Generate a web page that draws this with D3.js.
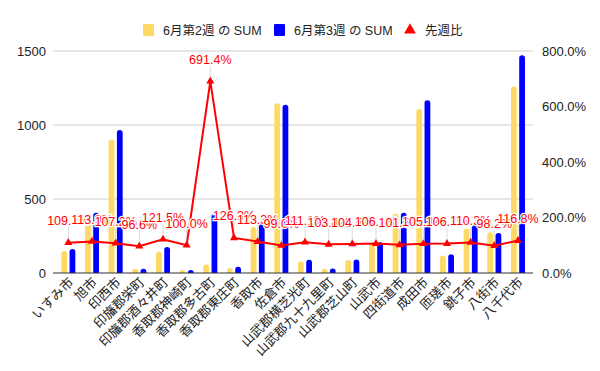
<!DOCTYPE html>
<html><head><meta charset="utf-8">
<script src="https://cdn.jsdelivr.net/npm/d3@7"></script>
<style>
body{margin:0;background:#fff;}
text{font-family:"Liberation Sans",Arial,"Noto Sans CJK JP",sans-serif;}
</style></head>
<body><svg id="c" width="600" height="371"></svg>
<script>
const categories = ["いすみ市","旭市","印西市","印旛郡栄町","印旛郡酒々井町","香取郡神崎町","香取郡多古町","香取郡東庄町","香取市","佐倉市","山武郡横芝光町","山武郡九十九里町","山武郡芝山町","山武市","四街道市","成田市","匝瑳市","銚子市","八街市","八千代市"];
const week2 = [149,357,901,29,144,14,58,34,310,1147,80,29,88,196,402,1108,119,300,275,1260];
const week3 = [163,407,966,28,175,14,401,43,351,1136,89,30,92,208,408,1167,126,331,270,1472];
const ratio = [109.1,113.9,107.2,96.6,121.5,100.0,691.4,126.3,113.3,99.0,111.1,103.4,104.5,106.1,101.5,105.3,106.1,110.3,98.2,116.8];
const leftTicks = [0,500,1000,1500];
const rightTicks = [0,200,400,600,800];
const seriesNames = ["6月第2週 の SUM","6月第3週 の SUM","先週比"];
const colors = ["#ffd966","#0000ff","#ff0000"];

(function(){
const svg = d3.select("#c");
const pTop = 51, pBottom = 273, pLeft = 53, pRight = 533;
const x = d3.scaleBand().domain(categories).range([56.5,529.8]);
const xs = d3.scaleBand().domain([0,1]).range([-7,7]).paddingInner(0.3);
const y = d3.scaleLinear().domain([0,1500]).range([pBottom,pTop]);
const y2 = d3.scaleLinear().domain([0,800]).range([pBottom,pTop]);
const cx = c => x(c) + x.bandwidth()/2;

svg.append("g").selectAll("line").data(leftTicks.filter(d=>d>0)).join("line")
  .attr("x1",pLeft).attr("x2",pRight).attr("y1",d=>y(d)).attr("y2",d=>y(d))
  .attr("stroke","#cccccc").attr("stroke-width",1);

const ga = svg.append("g").attr("transform",`translate(${pLeft-7},0)`)
  .call(d3.axisLeft(y).tickValues(leftTicks).tickSize(0).tickPadding(0).tickFormat(d3.format("d")));
ga.select(".domain").remove();
ga.selectAll("text").attr("font-size",13).attr("fill","#222");
const gr = svg.append("g").attr("transform",`translate(${pRight+9},0)`)
  .call(d3.axisRight(y2).tickValues(rightTicks).tickSize(0).tickPadding(0).tickFormat(d=>d3.format(".1f")(d)+"%"));
gr.select(".domain").remove();
gr.selectAll("text").attr("font-size",13).attr("fill","#222");

const barPath = (x0,w,yt,yb) => {
  const r = Math.min(w/2, yb-yt);
  return `M${x0},${yb}V${yt+r}A${r},${r} 0 0 1 ${x0+w},${yt+r}V${yb}Z`;
};
[week2,week3].forEach((vals,si)=>{
  svg.append("g").selectAll("path").data(categories).join("path")
    .attr("d",(c,i)=>barPath(cx(c)+xs(si), xs.bandwidth(), y(vals[i]), y(0)))
    .attr("fill",colors[si]);
});

svg.append("line").attr("x1",pLeft).attr("x2",pRight).attr("y1",y(0)).attr("y2",y(0))
  .attr("stroke","#333").attr("stroke-width",1);

const line = d3.line().x((d,i)=>cx(categories[i])).y(d=>y2(d));
svg.append("path").datum(ratio).attr("d",line).attr("fill","none")
  .attr("stroke",colors[2]).attr("stroke-width",2);
const tri = d3.symbol().type(d3.symbolTriangle).size(28);
svg.append("g").selectAll("path").data(ratio).join("path")
  .attr("transform",(d,i)=>`translate(${cx(categories[i])},${y2(d)})`)
  .attr("d",tri).attr("fill",colors[2]);

const ann = svg.append("g");
ratio.forEach((d,i)=>{
  const px = cx(categories[i]), py = y2(d);
  ann.append("line").attr("x1",px).attr("x2",px).attr("y1",py-3).attr("y2",py-16)
    .attr("stroke","#999").attr("stroke-opacity",0.35).attr("stroke-width",1);
  ann.append("text").attr("x",px).attr("y",py-17.5).attr("text-anchor","middle")
    .attr("font-size",12.5).attr("fill",colors[2])
    .attr("stroke","#fff").attr("stroke-width",2.5).attr("paint-order","stroke")
    .text(d3.format(".1f")(d)+"%");
});

svg.append("g").selectAll("text").data(categories).join("text")
  .attr("transform",c=>`translate(${cx(c)+6},${pBottom+10}) rotate(-45)`)
  .attr("text-anchor","end").attr("font-size",13).attr("fill","#222")
  .attr("font-family","'Noto Sans CJK JP',sans-serif")
  .text(c=>c);

const lg = svg.append("g");
const legendX = [143,274,405];
seriesNames.forEach((n,i)=>{
  if(i<2){
    lg.append("rect").attr("x",legendX[i]).attr("y",24).attr("width",11).attr("height",12).attr("rx",1).attr("fill",colors[i]);
  } else {
    lg.append("path").attr("transform",`translate(${legendX[i]+5},30)`)
      .attr("d",d3.symbol().type(d3.symbolTriangle).size(60)).attr("fill",colors[i]);
  }
  lg.append("text").attr("x",legendX[i]+20).attr("y",34.5).attr("font-size",12.5).attr("fill","#222").text(n);
});
})();
</script></body></html>
